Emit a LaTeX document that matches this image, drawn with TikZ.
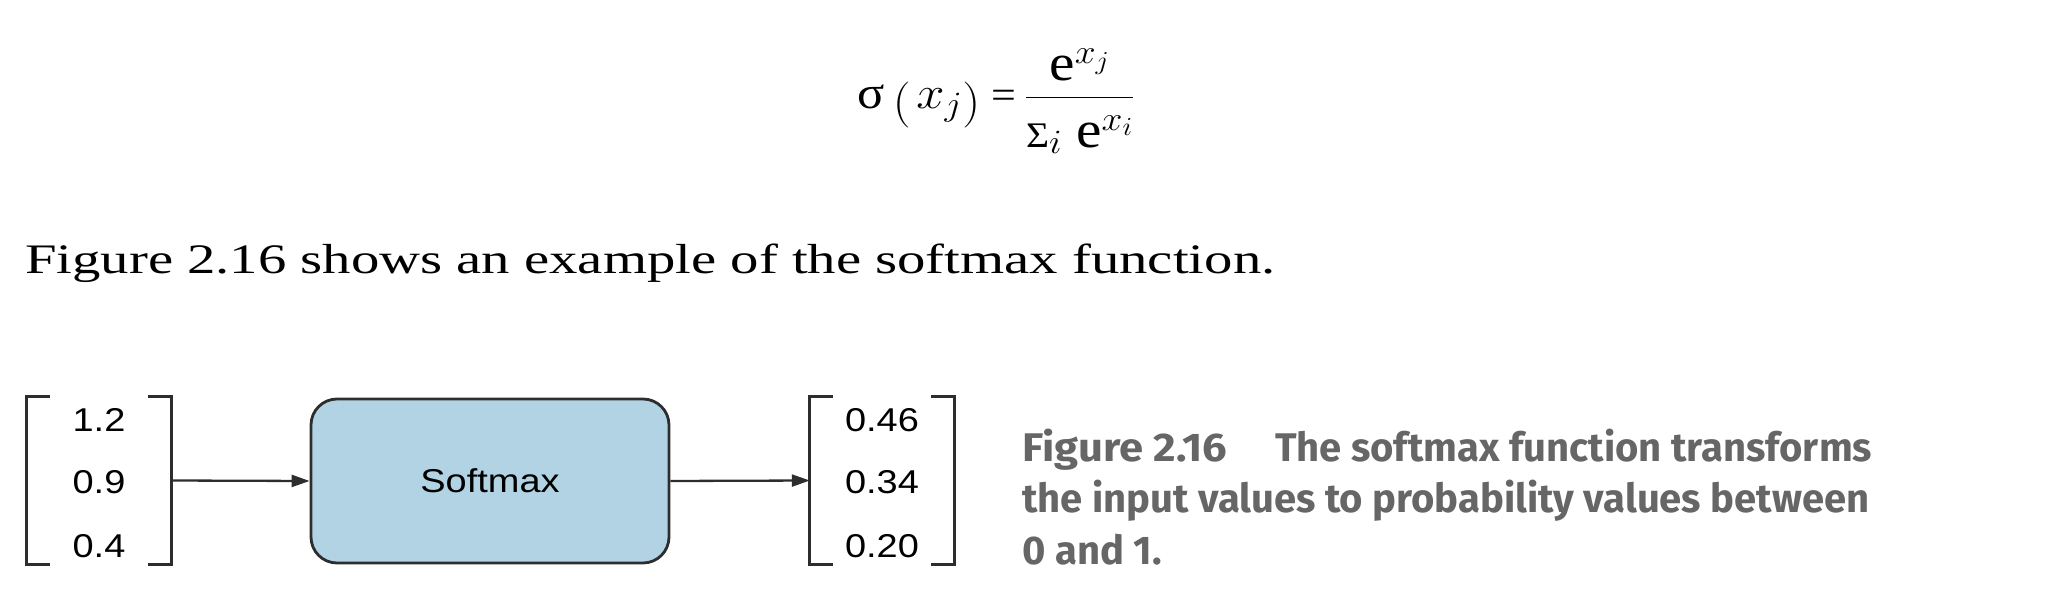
\RequirePackage{fix-cm}
\documentclass[tikz,border=0pt]{standalone}
\usepackage{amsmath}
\usepackage{graphicx}
\usepackage{fontspec}
\setmainfont{Liberation Serif}
\newfontfamily\bodyfont[FakeStretch=1.35]{Liberation Serif}
\newfontfamily\valfont[FakeStretch=1.15]{Liberation Sans}
\newfontfamily\capfont{Fira Sans}
\DeclareMathSizes{46}{46}{34}{26}
\usetikzlibrary{arrows.meta}
\definecolor{boxblue}{RGB}{178,211,227}
\definecolor{linegray}{RGB}{45,45,45}
\definecolor{capgray}{RGB}{102,102,102}
\newcommand{\bige}{\text{\fontsize{52}{54}\selectfont e}}
\tikzset{
  vec/.style={draw=none, minimum width=144pt, minimum height=167pt, inner sep=0pt},
  brk/.style={draw=linegray, line width=2.8pt},
  val/.style={font=\valfont\fontsize{33}{40}\selectfont, text=black, inner sep=0pt, anchor=base},
  smbox/.style={draw=linegray, fill=boxblue, line width=2.8pt, rounded corners=26pt,
    minimum width=358pt, minimum height=164pt, inner sep=0pt,
    font=\valfont\fontsize{33}{40}\selectfont},
  conn/.style={draw=linegray, line width=2.3pt, -{Triangle[length=18pt,width=12pt]}},
  capline/.style={font=\capfont\bfseries\fontsize{40}{52}\selectfont, text=capgray, inner sep=0pt, anchor=base west},
}
\begin{document}
\begin{tikzpicture}[x=1pt, y=-1pt]
\useasboundingbox (0,0) rectangle (2052,604);
% formula
\node[anchor=base west, inner sep=0pt, font=\fontsize{46}{52}\selectfont] (formula) at (857,108.5)
  {\scalebox{1.1}[1]{$\text{σ}\mkern3mu\raisebox{-8pt}{$($}\mkern2mu x_{j}\raisebox{-8pt}{$)$}\mkern4mu\text{\fontsize{40}{44}\selectfont =}\mkern3mu\dfrac{\raisebox{-3pt}{$\bige^{x_{j}}$}}{\raisebox{-7pt}{$\text{\fontsize{36}{40}\selectfont Σ}_i\mkern5mu\bige^{x_i}$}}$}};
% body line
\node[anchor=base west, inner sep=0pt, font=\bodyfont\fontsize{42}{50}\selectfont] (body) at (25,273)
  {Figure 2.16 shows an example of the softmax function.};
% input vector
\node[vec] (in) at (99,480.5) {};
\draw[brk] ([xshift=23pt]in.north west) -- (in.north west) -- (in.south west) -- ([xshift=23pt]in.south west);
\draw[brk] ([xshift=-23pt]in.north east) -- (in.north east) -- (in.south east) -- ([xshift=-23pt]in.south east);
\node[val] (i1) at (99,431) {1.2};
\node[val] (i2) at (99,493) {0.9};
\node[val] (i3) at (99,557) {0.4};
% softmax box
\node[smbox] (sm) at (490,481) {Softmax};
% output vector
\node[vec] (out) at (882,480.5) {};
\draw[brk] ([xshift=23pt]out.north west) -- (out.north west) -- (out.south west) -- ([xshift=23pt]out.south west);
\draw[brk] ([xshift=-23pt]out.north east) -- (out.north east) -- (out.south east) -- ([xshift=-23pt]out.south east);
\node[val] (o1) at (882,431) {0.46};
\node[val] (o2) at (882,493) {0.34};
\node[val] (o3) at (882,557) {0.20};
% connectors
\draw[conn] (in.east) -- (sm.west);
\draw[conn] (sm.east) -- (out.west);
% caption
\node[capline] (c1) at (1022,461) {\scalebox{1.09}[1]{Figure 2.16}\hspace{1.2em}The softmax function transforms};
\node[capline] (c2) at (1022,512) {the input values to probability values between};
\node[capline] (c3) at (1022,564) {0 and 1.};
\end{tikzpicture}
\end{document}
